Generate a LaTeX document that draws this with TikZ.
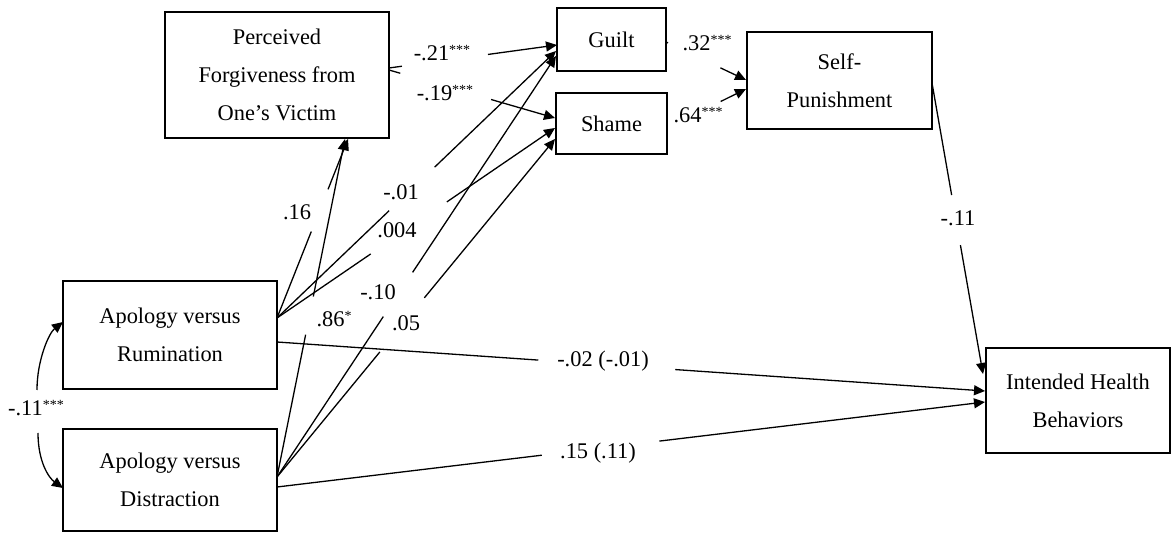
\documentclass[tikz,border=0pt]{standalone}
\usepackage{fontspec}
\setmainfont{Liberation Serif}
\usetikzlibrary{calc,arrows.meta}
\newcommand{\sigst}[1]{\raisebox{3pt}{\fontsize{7}{7}\selectfont#1}}
\newcommand{\gapped}[4]{%
  \draw[con] (#1) -- ($(#1)!#3!(#2)$);
  \draw[arr] ($(#1)!#4!(#2)$) -- (#2);}
\begin{document}
\begin{tikzpicture}[x=0.5pt,y=-0.5pt,
  box/.style={draw, line width=0.75pt, inner sep=0pt, align=center, font=\fontsize{11.2}{19}\selectfont},
  lbl/.style={inner sep=0pt, font=\fontsize{11.2}{13}\selectfont},
  con/.style={line width=0.65pt},
  arr/.style={line width=0.65pt, -{Triangle[length=5.5pt,width=5pt]}}]
\useasboundingbox (0,0) rectangle (1171,533);

% boxes
\node[box, minimum width=112pt, minimum height=63pt] (perc) at (277,75) {Perceived\\Forgiveness from\\One’s Victim};
\node[box, minimum width=54.5pt, minimum height=31.5pt] (guilt) at (611.5,39.5) {Guilt};
\node[box, minimum width=55.5pt, minimum height=30.5pt] (shame) at (611.5,123.5) {Shame};
\node[box, minimum width=92.5pt, minimum height=48.5pt] (selfp) at (839.5,80.5) {Self-\\Punishment};
\node[box, minimum width=92pt, minimum height=52.5pt] (health) at (1078,400.5) {Intended Health\\Behaviors};
\node[box, minimum width=107pt, minimum height=54pt] (rum) at (170,335) {Apology versus\\Rumination};
\node[box, minimum width=107pt, minimum height=51pt] (dis) at (170,480) {Apology versus\\Distraction};

% connector end points on the boxes
\coordinate (rumA) at (277,318);
\coordinate (rumH) at (277,342);
\coordinate (disA) at (277,477);
\coordinate (disH) at (277,487);
\coordinate (percS1) at (348,139);
\coordinate (percS2) at (345,139);
\coordinate (percE1) at (389,68);
\coordinate (percE2) at (389,70);
\coordinate (guiltW1) at (557,45);
\coordinate (guiltW2) at (556,51);
\coordinate (guiltW3) at (556,56);
\coordinate (guiltE) at (666,42);
\coordinate (shameW1) at (555,118);
\coordinate (shameW2) at (555,128);
\coordinate (shameW3) at (555,139);
\coordinate (shameE) at (667,128);
\coordinate (spW1) at (746,80);
\coordinate (spW2) at (746,89);
\coordinate (spE) at (932,83);
\coordinate (hlN) at (983,374);
\coordinate (hlW1) at (985,391);
\coordinate (hlW2) at (985,402);
\coordinate (rumW) at (63,322);
\coordinate (disW) at (63,488);
\coordinate (covU) at (37,390);
\coordinate (covD) at (38,433);

% paths with label gaps
\gapped{rumA}{percS1}{0.483}{0.719}
\gapped{disA}{percS2}{0.421}{0.534}
\gapped{rumA}{guiltW2}{0.402}{0.565}
\gapped{rumA}{shameW2}{0.337}{0.611}
\gapped{disA}{guiltW3}{0.381}{0.486}
\gapped{disA}{shameW3}{0.370}{0.530}
\gapped{percE1}{guiltW1}{0.077}{0.589}
\gapped{percE2}{shameW1}{0.068}{0.615}
\gapped{guiltE}{spW1}{0.025}{0.68}
\draw[arr] ($(shameE)!0.68!(spW2)$) -- (spW2);
\gapped{spE}{hlN}{0.385}{0.557}
\gapped{rumH}{hlW1}{0.369}{0.5625}
\gapped{disH}{hlW2}{0.374}{0.540}

% covariance
\draw[arr] (covU) .. controls (37,360) and (49,333) .. (rumW);
\draw[arr] (covD) .. controls (38,462) and (49,478) .. (disW);

% labels
\node[lbl] (l16) at (297,212) {.16};
\node[lbl] (l86) at (334,319) {.86\sigst{*}};
\node[lbl] (l01) at (401,192) {-.01};
\node[lbl] (l004) at (397,230) {.004};
\node[lbl] (l10) at (378,292) {-.10};
\node[lbl] (l05) at (406,323) {.05};
\node[lbl] (l21) at (442,53) {-.21\sigst{***}};
\node[lbl] (l19) at (445,93) {-.19\sigst{***}};
\node[lbl] (l32) at (707,43) {.32\sigst{***}};
\node[lbl] (l64) at (698,115) {.64\sigst{***}};
\node[lbl] (l11) at (958,218) {-.11};
\node[lbl] (l02) at (603,361) {-.02 (-.01)};
\node[lbl] (l15) at (598,453) {.15 (.11)};
\node[lbl] (lcov) at (36,408) {-.11\sigst{***}};
\end{tikzpicture}
\end{document}
